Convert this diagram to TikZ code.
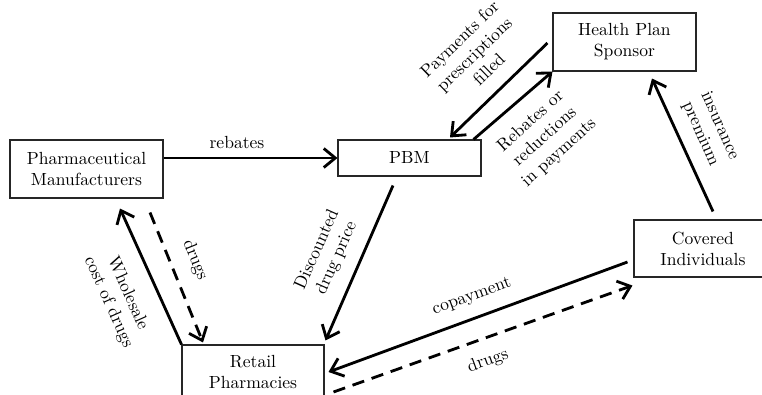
\documentclass[tikz,border=0pt]{standalone}
\usetikzlibrary{arrows.meta}
\begin{document}
\begin{tikzpicture}[x=0.02cm,y=-0.02cm,
  party/.style={draw=black!85,line width=0.6pt,align=center,inner sep=0pt},
  flow/.style={line width=1.6pt,-{Straight Barb[length=2.3mm,width=3.8mm]}},
  goods/.style={flow,dash pattern=on 7pt off 4.5pt},
  lbl/.style={align=center,inner sep=0pt}]
  \useasboundingbox (0,0) rectangle (762,395);
  \clip (0,0) rectangle (762,395);
  % Parties
  \node[party,minimum width=3.06cm,minimum height=1.16cm] (pharma) at (86.5,169) {Pharmaceutical\\Manufacturers};
  \node[party,minimum width=2.86cm,minimum height=0.72cm] (pbm) at (409.5,158) {PBM};
  \node[party,minimum width=2.86cm,minimum height=1.16cm] (sponsor) at (624.5,42) {Health Plan\\Sponsor};
  \node[party,minimum width=2.76cm,minimum height=1.14cm] (covered) at (703,248.5) {Covered\\Individuals};
  \node[party,minimum width=2.84cm,minimum height=1.08cm] (retail) at (253,372) {Retail\\Pharmacies};
  % Money flows
  \draw[flow] (pharma.east |- pbm.west) -- (pbm.west);
  \draw[flow] (retail.north west) -- ([shift={(33.5,10)}]pharma.south);
  \draw[flow] ([shift={(-16.5,9)}]pbm.south) -- ([shift={(1,-4)}]retail.north east);
  \draw[flow] ([shift={(-5,1)}]sponsor.west) -- ([shift={(40.5,-2)}]pbm.north);
  \draw[flow] ([shift={(-8,0)}]pbm.north east) -- (sponsor.south west);
  \draw[flow] ([shift={(10,-8)}]covered.north) -- ([shift={(27.5,7)}]sponsor.south);
  \draw[flow] ([shift={(-6,13.5)}]covered.west) -- ([shift={(4,0)}]retail.east);
  % Drug flows
  \draw[goods] ([shift={(63.5,14)}]pharma.south) -- ([shift={(-50,-2)}]retail.north);
  \draw[goods] ([shift={(9,20)}]retail.east) -- ([shift={(-1,8)}]covered.south west);
  % Labels
  \node[lbl] (rebatesLbl) at (237,143) {rebates};
  \node[lbl,rotate=-66] (wholesaleLbl) at (118,298) {Wholesale\\cost of drugs};
  \node[lbl,rotate=-68] (drugsLbl) at (195,260) {drugs};
  \node[lbl,rotate=66] (discountLbl) at (327,254) {Discounted\\drug price};
  \node[lbl,rotate=44] (paymentsLbl) at (474,54) {Payments for\\prescriptions\\filled};
  \node[lbl,rotate=42] (reductionsLbl) at (545,137) {Rebates or\\reductions\\in payments};
  \node[lbl,rotate=-66] (premiumLbl) at (710,130) {insurance\\premium};
  \node[lbl,rotate=20] (copayLbl) at (472,297) {copayment};
  \node[lbl,rotate=20] (drugsLowLbl) at (488,361) {drugs};
\end{tikzpicture}
\end{document}
